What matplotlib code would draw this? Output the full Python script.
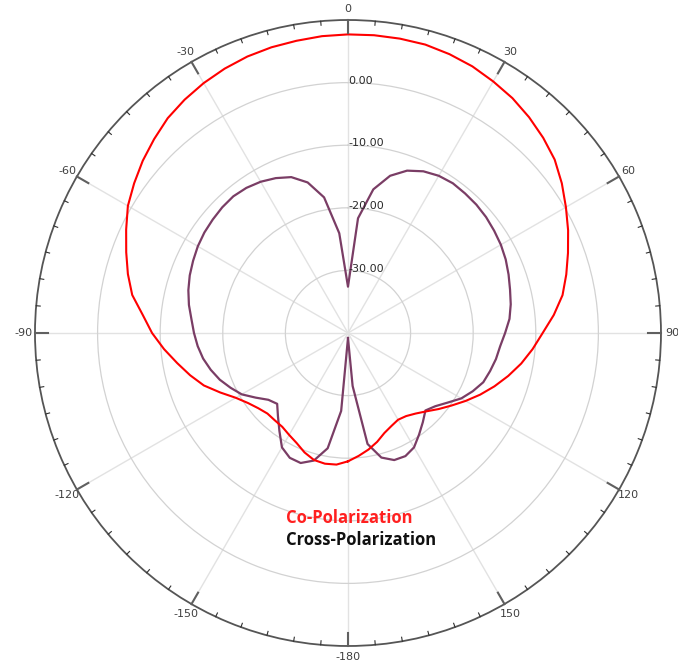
import numpy as np
import matplotlib
matplotlib.use("Agg")
import matplotlib.pyplot as plt

# pattern cut, angle in degrees (0 = boresight, clockwise), gain in dB
angles = np.arange(-180, 181, 5)

co_pol = [
    -19.5, -18.9, -18.8, -19.0, -19.7, -20.6, -21.2, -21.7, -21.8, -21.8,
    -21.3, -20.5, -19.3, -17.5, -15.5, -13.9, -12.3, -10.5, -8.7, -7.1,
    -5.0, -3.6, -2.3, -0.9, 0.6, 1.7, 2.8, 3.8, 4.8, 5.5,
    6.1, 6.6, 7.0, 7.25, 7.4, 7.6, 7.7, 7.75, 7.75, 7.7,
    7.4, 7.0, 6.4, 5.8, 5.0, 4.1, 3.1, 1.7, 0.2, -1.2,
    -2.6, -3.9, -5.2, -7.0, -8.9, -10.4, -11.9, -13.5, -15.1, -16.7,
    -18.3, -19.8, -21.1, -22.3, -23.2, -23.8, -24.0, -23.6, -23.0, -22.0,
    -21.1, -20.3, -19.5,
]

cross_pol = [
    -39.2, -27.5, -21.3, -18.9, -17.9, -18.0, -18.9, -20.9, -22.6, -24.0,
    -23.4, -22.0, -20.4, -19.3, -18.2, -17.3, -16.5, -15.9, -15.4, -14.9,
    -14.2, -13.6, -13.1, -12.7, -12.3, -12.0, -11.8, -11.6, -11.5, -11.7,
    -12.1, -12.7, -13.5, -15.1, -18.0, -24.0, -32.6, -21.6, -16.7, -14.0,
    -12.4, -11.5, -11.0, -10.8, -10.9, -11.0, -11.2, -11.5, -11.8, -12.2,
    -12.7, -13.2, -13.6, -14.1, -14.9, -15.6, -16.0, -16.5, -17.0, -18.0,
    -19.1, -20.6, -21.8, -22.5, -21.4, -20.2, -18.9, -18.3, -18.4, -19.4,
    -22.0, -31.5, -39.2,
]

ring_values = [0, -10, -20, -30]
theta_major = np.arange(0, 360, 30)
theta_labels = ["0", "30", "60", "90", "120", "150", "-180", "-150", "-120", "-90", "-60", "-30"]

r_min, r_max = -40, 10

fig = plt.figure(figsize=(6.78, 6.66), dpi=100)
ax = fig.add_axes([0.0516, 0.030, 0.9233, 0.940], projection="polar")
ax.set_theta_zero_location("N")
ax.set_theta_direction(-1)
ax.set_ylim(r_min, r_max)

th = np.radians(angles)
ax.plot(th, cross_pol, color="#7a3d65", lw=1.6, zorder=3)
ax.plot(th, co_pol, color="#ff0000", lw=1.5, zorder=4)

# angular grid and labels outside the rim
ax.set_xticks(np.radians(theta_major))
ax.set_xticklabels(theta_labels, fontsize=8, color="#404040")
ax.tick_params(axis="x", which="major", length=0, pad=1)
ax.xaxis.grid(True, color="#e2e2e2", lw=1.0)

# rim ticks every 5 deg, pointing inward, longer at the 30 deg spokes
span = r_max - r_min
for a in range(0, 360, 5):
    t = np.radians(a)
    if a % 30 == 0:
        ax.plot([t, t], [r_max - 0.042 * span, r_max], color="#606060",
                lw=1.5, clip_on=False, zorder=5)
    else:
        ax.plot([t, t], [r_max - 0.013 * span, r_max], color="#303030",
                lw=0.8, clip_on=False, zorder=5)

# radial rings, labelled along the 0 deg spoke
ax.set_yticks(ring_values)
ax.set_yticklabels([])
ax.yaxis.grid(True, color="#d2d2d2", lw=0.9)
for v in ring_values:
    ax.text(0, v + 0.3, f"{v:.2f}", ha="left", va="center", fontsize=8,
            color="#2a2a2a", zorder=5)

ax.spines["polar"].set_color("#555555")
ax.spines["polar"].set_linewidth(1.3)

fig.text(0.4218, 0.222, "Co-Polarization", color="#ff2020", fontsize=12,
         fontweight="bold", family="Open Sans", ha="left", va="center")
fig.text(0.4218, 0.189, "Cross-Polarization", color="#101010", fontsize=12,
         fontweight="bold", family="Open Sans", ha="left", va="center")

fig.savefig("out.png", dpi=100)
